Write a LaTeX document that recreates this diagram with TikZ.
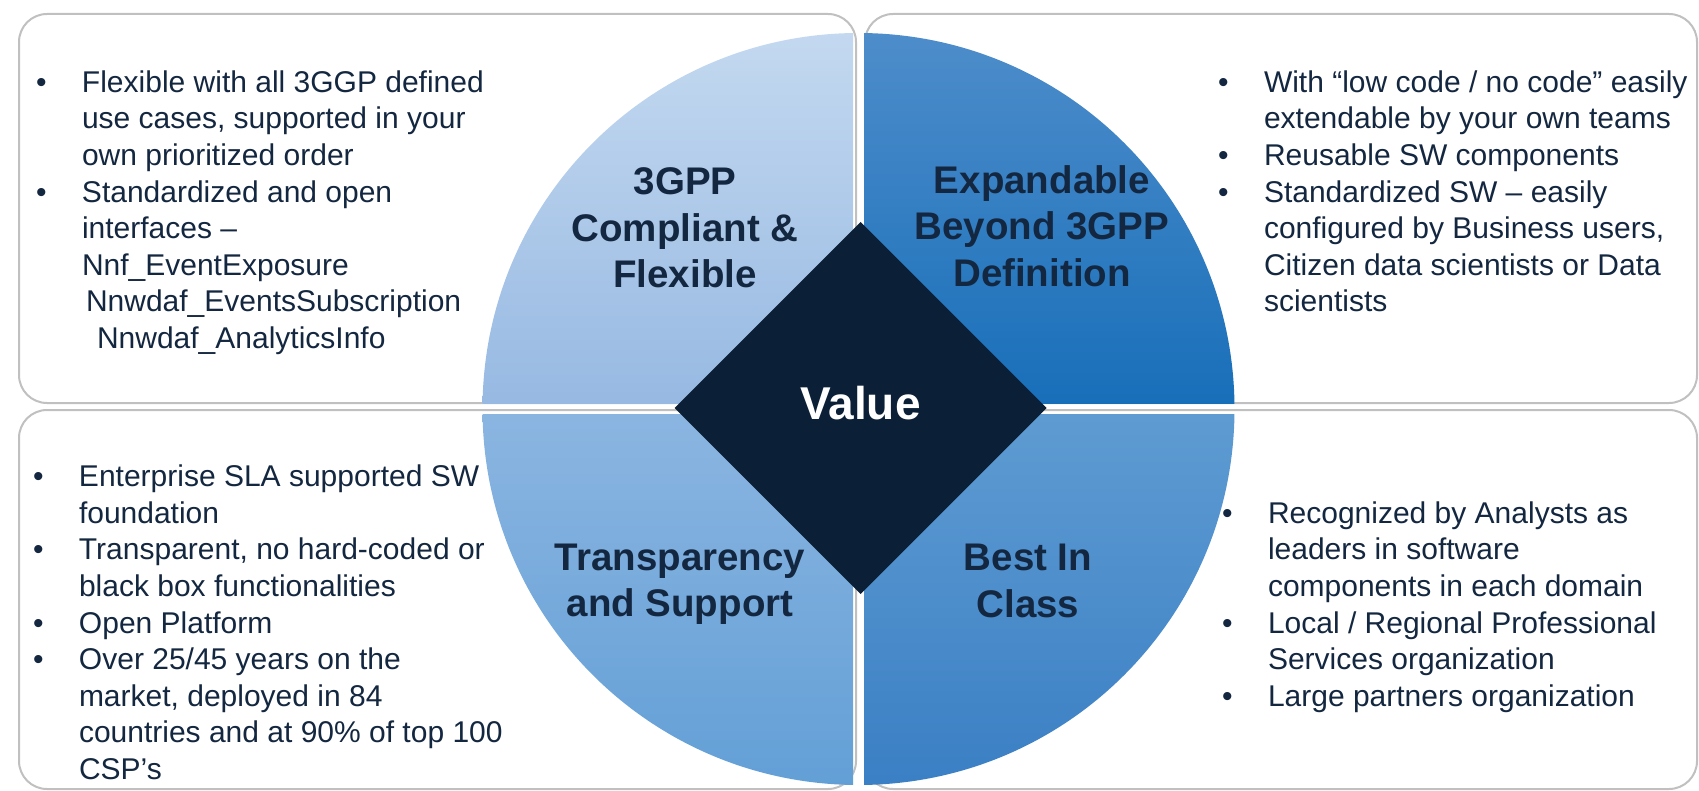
\documentclass[tikz,border=0pt]{standalone}
\usepackage{fontspec}
\setmainfont{Liberation Sans}
\usepackage{tikz}
\usetikzlibrary{shapes.geometric}
\definecolor{navy}{RGB}{20,39,64}
\definecolor{valuenavy}{RGB}{11,31,54}
\definecolor{boxgray}{RGB}{192,192,192}
\definecolor{tltop}{RGB}{196,217,240}
\definecolor{tlbot}{RGB}{151,185,226}
\definecolor{trtop}{RGB}{78,141,203}
\definecolor{trbot}{RGB}{24,111,185}
\definecolor{bltop}{RGB}{139,181,225}
\definecolor{blbot}{RGB}{98,159,214}
\definecolor{brtop}{RGB}{94,155,210}
\definecolor{brbot}{RGB}{58,127,196}
\newcommand{\bul}{\makebox[46pt][l]{•}}
\newcommand{\ind}{\hspace*{46pt}}
\tikzstyle{panel}=[draw=boxgray, line width=2pt, rounded corners=28pt]
\tikzstyle{bullets}=[inner sep=0, outer sep=0, align=left, anchor=north west, text=navy,
                     font=\fontsize{30}{36.6}\selectfont]
\tikzstyle{quadtitle}=[inner sep=0, outer sep=0, align=center, text=navy,
                       font=\fontsize{38.5}{46.5}\selectfont\bfseries]
\tikzstyle{valuediamond}=[diamond, fill=valuenavy, inner sep=0, outer sep=0,
                          minimum width=372pt, minimum height=372pt, text=white,
                          font=\fontsize{46}{52}\selectfont\bfseries]

\begin{document}
\begin{tikzpicture}[x=1pt, y=-1pt]
        \useasboundingbox (0,0) rectangle (1699,791);
        % panels behind the circle
        \draw[panel] (19,14) rectangle (856,403);
        \draw[panel] (865,14) rectangle (1697,403);
        \draw[panel] (19,410) rectangle (856,789);
        \draw[panel] (865,410) rectangle (1697,789);
        \begin{scope}
            \clip (858.5,409) circle (376pt);
            \shade[top color=tltop, bottom color=tlbot] (480,30) rectangle (853,403.5);
            \shade[top color=trtop, bottom color=trbot] (864,30) rectangle (1238,403.5);
            \shade[top color=bltop, bottom color=blbot] (480,414.5) rectangle (853,790);
            \shade[top color=brtop, bottom color=brbot] (864,414.5) rectangle (1238,790);
        \end{scope}
        \node[valuediamond] (value) at (860.5,408) {\raisebox{10pt}{Value}};
        \node[quadtitle] (compliant)    at (685,228)  {3GPP\\Compliant \&\\Flexible};
        \node[quadtitle] (expandable)   at (1042,226) {Expandable\\Beyond 3GPP\\Definition};
        \node[quadtitle] (transparency) at (680,584)  {Transparency\\and Support};
        \node[quadtitle] (bestinclass)  at (1028,581) {Best In\\Class};
        \node[bullets] (compliantlist) at (36,70.5) {\bul Flexible with all 3GGP defined\\
            \ind use cases, supported in your\\
            \ind own prioritized order\\
            \bul Standardized and open\\
            \ind interfaces –\\
            \ind Nnf\_EventExposure\\
            \ind\hspace*{4pt}Nnwdaf\_EventsSubscription\\
            \ind\hspace*{15pt}Nnwdaf\_AnalyticsInfo};
        \node[bullets] (expandablelist) at (1218,70.5) {\bul With “low code / no code” easily\\
            \ind extendable by your own teams\\
            \bul Reusable SW components\\
            \bul Standardized SW – easily\\
            \ind configured by Business users,\\
            \ind Citizen data scientists or Data\\
            \ind scientists};
        \node[bullets] (transparencylist) at (33,465) {\bul Enterprise SLA supported SW\\
            \ind foundation\\
            \bul Transparent, no hard-coded or\\
            \ind black box functionalities\\
            \bul Open Platform\\
            \bul Over 25/45 years on the\\
            \ind market, deployed in 84\\
            \ind countries and at 90\% of top 100\\
            \ind CSP’s};
        \node[bullets] (bestinclasslist) at (1222,501.5) {\bul Recognized by Analysts as\\
            \ind leaders in software\\
            \ind components in each domain\\
            \bul Local / Regional Professional\\
            \ind Services organization\\
            \bul Large partners organization};
    \end{tikzpicture}
\end{document}
